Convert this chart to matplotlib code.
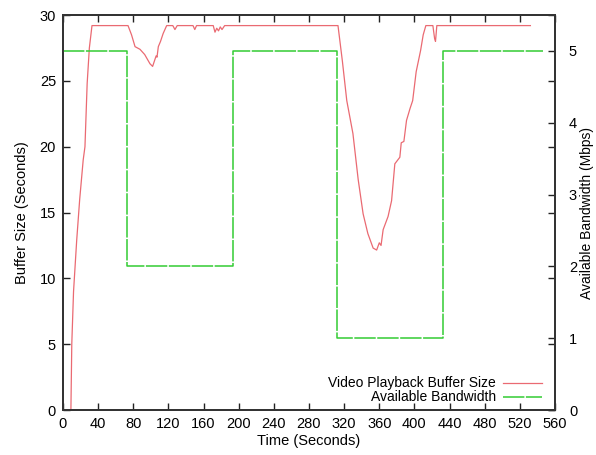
import matplotlib
matplotlib.use("Agg")
import matplotlib.pyplot as plt

plt.rcParams['font.family'] = ['Liberation Sans', 'DejaVu Sans']

# Video playback buffer size (seconds) over time
buf_t = [9, 10, 12, 15.6, 19, 23, 25, 27.5, 30, 33,
         74, 78, 82, 87.6, 93, 99, 102, 104, 106, 107, 108.5, 111, 114, 118,
         125, 127.4, 130, 148, 150, 152, 171, 173, 175, 177, 179, 181, 184,
         313, 318, 323, 330, 336, 341.6, 347, 353, 357, 360, 362, 364.4, 370,
         374, 377.7, 383.4, 385, 388, 391, 395, 398, 402, 407, 410, 413,
         421, 423, 424, 425.5, 532]
buf_v = [0, 5, 9, 12.9, 16, 19, 20, 24.8, 27.5, 29.2,
         29.2, 28.5, 27.6, 27.4, 27.0, 26.3, 26.1, 26.5, 26.9, 26.8, 27.6, 28.0, 28.6, 29.2,
         29.2, 28.9, 29.2, 29.2, 28.9, 29.2, 29.2, 28.7, 29.0, 28.8, 29.1, 28.9, 29.2,
         29.2, 26.5, 23.5, 21.0, 17.5, 14.9, 13.4, 12.3, 12.15, 12.7, 12.5, 13.7, 14.7,
         15.9, 18.7, 19.2, 20.3, 20.4, 22.0, 22.9, 23.5, 25.7, 27.3, 28.5, 29.2,
         29.2, 28.2, 28.0, 29.2, 29.2]

# Available bandwidth (Mbps), step changes
bw_t = [0, 73, 193, 312, 433, 546]
bw_v = [5, 2, 5, 1, 5, 5]

x_ticks = list(range(0, 561, 40))
y_ticks = list(range(0, 31, 5))
y2_ticks = [0, 1, 2, 3, 4, 5]

fig = plt.figure(figsize=(5.96, 4.55), dpi=100)
ax = fig.add_axes([0.1057, 0.0989, 0.8255, 0.868])
ax2 = ax.twinx()

l1, = ax.plot(buf_t, buf_v, color='#ea6a72', lw=0.9, label='Video Playback Buffer Size')
l2, = ax2.plot(bw_t, bw_v, color='#33cc33', lw=1.1, drawstyle='steps-post',
               dashes=(14, 1.0), label='Available Bandwidth')

ax.set_xlim(0, 560)
ax.set_ylim(0, 30)
ax2.set_ylim(0, 5.5)
ax.set_xticks(x_ticks)
ax.set_yticks(y_ticks)
ax2.set_yticks(y2_ticks)

ax.tick_params(direction='in', length=5, width=1, labelsize=10.5, color='#222222',
               top=True, right=True, labelright=False, pad=5)
ax2.tick_params(direction='in', length=5, width=1, labelsize=10.5, color='#222222', pad=10)

for a in (ax, ax2):
    for s in a.spines.values():
        s.set_color('#333333')
        s.set_linewidth(1.3)

ax.set_xlabel('Time (Seconds)', fontsize=10.5, labelpad=2)
ax.set_ylabel('Buffer Size (Seconds)', fontsize=10.5, labelpad=8)
ax2.set_ylabel('Available Bandwidth (Mbps)', fontsize=10, labelpad=2)

leg = ax2.legend(handles=[l1, l2], loc='lower right', bbox_to_anchor=(0.985, 0.0),
                 frameon=False, markerfirst=False, fontsize=10, handlelength=2.8,
                 handletextpad=0.5, labelspacing=0.0, borderaxespad=0.0)

fig.savefig('out.png', dpi=100)
